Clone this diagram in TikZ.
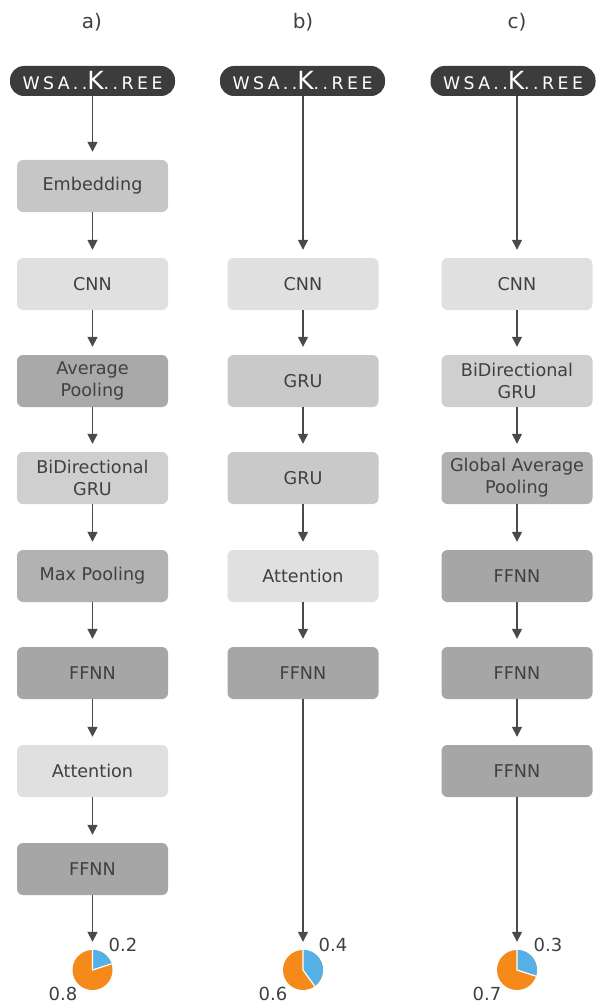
\documentclass[tikz,border=0pt]{standalone}
\usepackage{fontspec}
\setmainfont{DejaVu Sans}
\usetikzlibrary{arrows.meta,calc}
\definecolor{txt}{HTML}{404040}
\definecolor{arr}{HTML}{4A4A4A}
\definecolor{pill}{HTML}{3C3C3C}
\definecolor{cl}{HTML}{E0E0E0}
\definecolor{cemb}{HTML}{C6C6C6}
\definecolor{cavg}{HTML}{A9A9A9}
\definecolor{cbi}{HTML}{CFCFCF}
\definecolor{cmax}{HTML}{B2B2B2}
\definecolor{cff}{HTML}{A6A6A6}
\definecolor{cgru}{HTML}{C9C9C9}
\definecolor{cgap}{HTML}{B1B1B1}
\definecolor{pblue}{HTML}{55B0E6}
\definecolor{porange}{HTML}{F58A1A}
\tikzset{
  layer/.style={rounded corners=6pt, minimum width=151pt, minimum height=52pt, inner sep=1pt,
    text=txt, font=\fontsize{17.6}{22}\selectfont, align=center},
  pillbox/.style={rounded corners=14pt, fill=pill, minimum width=165pt, minimum height=30pt, inner sep=0pt,
    text=white, font=\fontsize{17.3}{18}\selectfont\addfontfeature{LetterSpace=20}},
  conn/.style={draw=arr, line width=1.5pt, -{Triangle[width=10pt,length=10pt]}, shorten >=8pt},
  head/.style={text=txt, font=\fontsize{20}{22}\selectfont},
  val/.style={text=txt, font=\fontsize{18}{20}\selectfont},
  piecirc/.style={circle, minimum size=40pt, inner sep=0pt}
}
\newcommand{\pillt}{WSA..{\fontsize{25}{25}\selectfont K}..REE}
\newcommand{\mypie}[2]{%
  \fill[porange] (#1.center) circle (20pt);
  \fill[pblue] (#1.center) -- (#1.north) arc[start angle=90, end angle=#2, radius=20pt] -- cycle;
  \draw[white, line width=1.2pt] (#1.north) -- (#1.center) -- ($(#1.center)+(#2:20pt)$);
}
\begin{document}
\begin{tikzpicture}[x=1pt,y=-1pt]
\useasboundingbox (0,0) rectangle (595,1003);
% headings
\node[head] (ha) at (92,22) {a)};
\node[head] (hb) at (303,22) {b)};
\node[head] (hc) at (517,22) {c)};
% pills
\node[pillbox] (pa) at (92.5,81) {\pillt};
\node[pillbox] (pb) at (302.5,81) {\pillt};
\node[pillbox] (pc) at (513,81) {\pillt};
% column a
\node[layer, fill=cemb] (a1) at (92.5,186) {Embedding};
\node[layer, fill=cl] (a2) at (92.5,284) {CNN};
\node[layer, fill=cavg] (a3) at (92.5,381) {Average\\Pooling};
\node[layer, fill=cbi] (a4) at (92.5,478) {BiDirectional\\GRU};
\node[layer, fill=cmax] (a5) at (92.5,576) {Max Pooling};
\node[layer, fill=cff] (a6) at (92.5,673) {FFNN};
\node[layer, fill=cl] (a7) at (92.5,771) {Attention};
\node[layer, fill=cff] (a8) at (92.5,869) {FFNN};
\node[piecirc] (qa) at (92.5,970) {};
% column b
\node[layer, fill=cl] (b1) at (303,284) {CNN};
\node[layer, fill=cgru] (b2) at (303,381) {GRU};
\node[layer, fill=cgru] (b3) at (303,478) {GRU};
\node[layer, fill=cl] (b4) at (303,576) {Attention};
\node[layer, fill=cff] (b5) at (303,673) {FFNN};
\node[piecirc] (qb) at (303,970) {};
% column c
\node[layer, fill=cl] (c1) at (517,284) {CNN};
\node[layer, fill=cbi] (c2) at (517,381) {BiDirectional\\GRU};
\node[layer, fill=cgap] (c3) at (517,478) {Global Average\\Pooling};
\node[layer, fill=cff] (c4) at (517,576) {FFNN};
\node[layer, fill=cff] (c5) at (517,673) {FFNN};
\node[layer, fill=cff] (c6) at (517,771) {FFNN};
\node[piecirc] (qc) at (517,970) {};
% connectors
\draw[conn] (pa) -- (a1);
\foreach \i/\j in {a1/a2,a2/a3,a3/a4,a4/a5,a5/a6,a6/a7,a7/a8,a8/qa} \draw[conn] (\i) -- (\j);
\draw[conn] (pb.south -| b1) -- (b1);
\foreach \i/\j in {b1/b2,b2/b3,b3/b4,b4/b5,b5/qb} \draw[conn] (\i) -- (\j);
\draw[conn] (pc.south -| c1) -- (c1);
\foreach \i/\j in {c1/c2,c2/c3,c3/c4,c4/c5,c5/c6,c6/qc} \draw[conn] (\i) -- (\j);
% pies
\mypie{qa}{18}
\mypie{qb}{-54}
\mypie{qc}{-18}
\node[val] (va1) at (123,945) {0.2};
\node[val] (va2) at (63,994) {0.8};
\node[val] (vb1) at (333,945) {0.4};
\node[val] (vb2) at (273,994) {0.6};
\node[val] (vc1) at (548,945) {0.3};
\node[val] (vc2) at (487,994) {0.7};
\end{tikzpicture}
\end{document}
